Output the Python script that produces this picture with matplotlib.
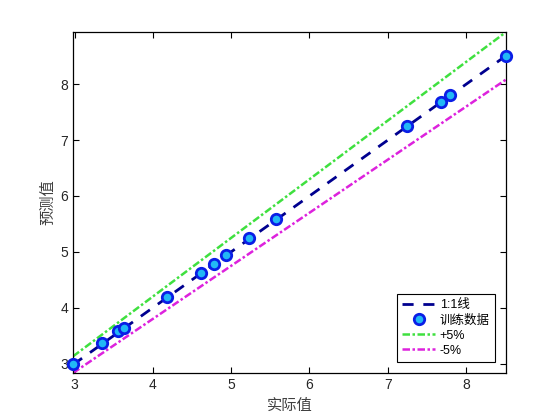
import numpy as np
import matplotlib.pyplot as plt

plt.rcParams['font.family'] = ['Liberation Sans', 'Noto Sans CJK SC', 'DejaVu Sans']

# donnees
actual = [2.98, 3.35, 3.56, 3.63, 4.18, 4.61, 4.78, 4.93, 5.23, 5.57, 7.25, 7.68, 7.80, 8.51]
predicted = [3.00, 3.37, 3.58, 3.64, 4.19, 4.62, 4.79, 4.94, 5.25, 5.58, 7.25, 7.69, 7.81, 8.51]
xticks = [3, 4, 5, 6, 7, 8]
yticks = [3, 4, 5, 6, 7, 8]

xmin, xmax = min(actual), max(actual)
xl = np.array([xmin, xmax])

fig = plt.figure(figsize=(5.6, 4.2), dpi=100)
ax = fig.add_axes([0.1304, 0.1119, 0.7732, 0.8119])

ax.plot(xl, xl, '--', color='#00008f', lw=2, dashes=(4, 3.5), label='1:1线')
ax.plot(actual, predicted, 'o', ms=7.5, mfc='#22b8f5', mec='#0a1ee6', mew=2, ls='none',
        clip_on=False, zorder=3, label='训练数据')
ax.plot(xl, 1.05 * xl, '-.', color='#3fe03f', lw=1.8, dashes=(3, 1, 1, 1), label='+5%')
ax.plot(xl, 0.95 * xl, '-.', color='#dd22dd', lw=1.8, dashes=(3, 1, 1, 1), label='-5%')

ax.set_xlim(xmin, xmax)
ax.set_ylim(0.95 * xmin, 1.05 * xmax)
ax.set_xticks(xticks)
ax.set_yticks(yticks)
ax.tick_params(direction='in', top=True, right=True, length=4, width=0.8,
               labelsize=10, labelcolor='#262626')
for s in ax.spines.values():
    s.set_linewidth(0.9)

ax.set_xlabel('实际值', fontsize=11, color='#404040', labelpad=5)
ax.set_ylabel('预测值', fontsize=11, color='#404040', labelpad=4)

leg = ax.legend(loc='lower right', fontsize=9, fancybox=False, edgecolor='black',
                framealpha=1, borderaxespad=0.9, handlelength=2.6, labelspacing=0.25,
                borderpad=0.4, handletextpad=0.4)
leg.get_frame().set_linewidth(0.8)

plt.savefig('out.png', dpi=100)
